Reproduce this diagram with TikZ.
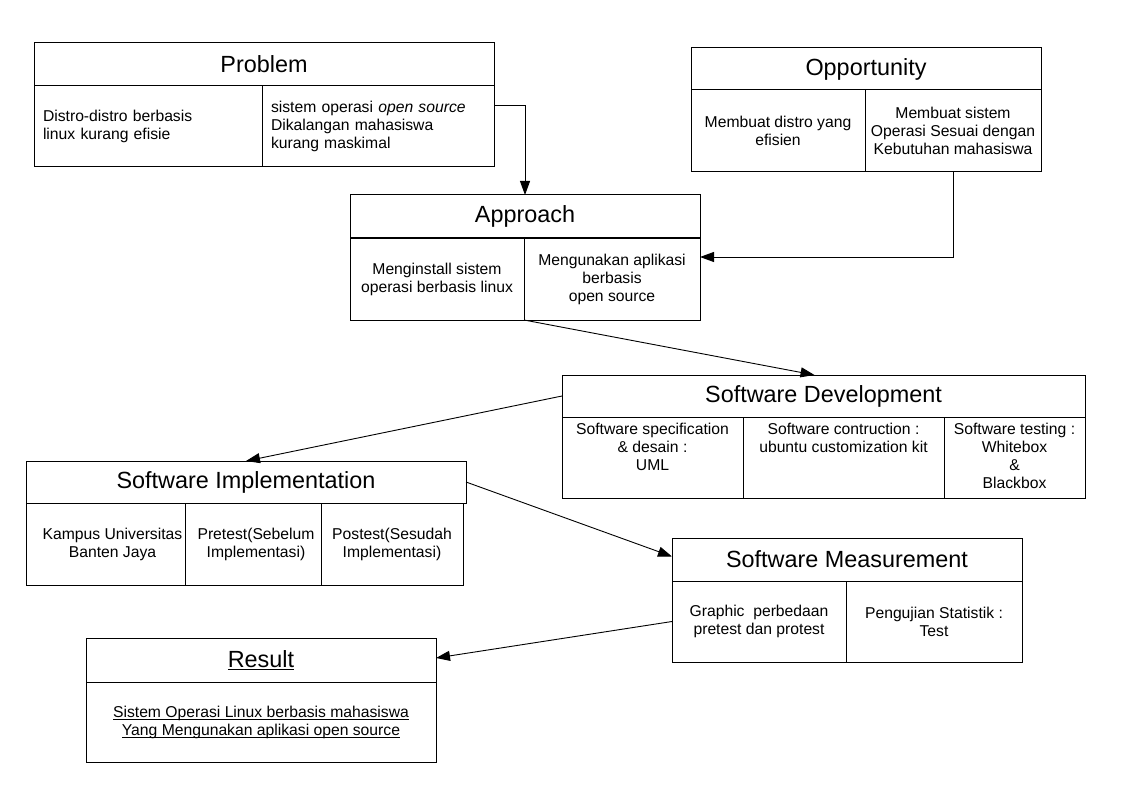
\documentclass[tikz,border=0pt]{standalone}
\usepackage{fontspec}
\setmainfont{Liberation Sans}
\usetikzlibrary{arrows.meta,calc}
\newcommand{\myul}[1]{\setbox0\hbox{#1}\rlap{\rule[-2.6pt]{\wd0}{0.9pt}}\box0}
\begin{document}
\begin{tikzpicture}[x=1pt,y=-1pt,
  box/.style={draw=black,line width=1pt,rectangle,outer sep=0pt,inner sep=0pt},
  titlebox/.style={box,font=\fontsize{23.4}{27}\selectfont},
  cellbox/.style={box,font=\fontsize{15.7}{18}\selectfont,align=center},
  leftcell/.style={box,font=\fontsize{15.7}{18}\selectfont,align=left,inner xsep=9pt},
  txt/.style={inner sep=0pt,outer sep=0pt,font=\fontsize{15.7}{18}\selectfont,align=center},
  arr/.style={line width=0.9pt,-{Triangle[length=14pt,width=10pt]}}]
\useasboundingbox (0,0) rectangle (1123,794);
\fill[white] (0,0) rectangle (1123,794);

% Problem
\node[titlebox,minimum width=460,minimum height=43] (pT) at (264,64.5) {Problem};
\node[leftcell,minimum height=81,text width=210] (pL) at (148,126.5) {Distro-distro berbasis\\linux kurang efisie};
\node[leftcell,minimum height=81,text width=214] (pR) at (378,126.5) {sistem operasi \textit{open source}\\Dikalangan mahasiswa\\kurang maskimal};

% Opportunity
\node[titlebox,minimum width=350,minimum height=42] (oT) at (866,69) {Opportunity};
\node[cellbox,minimum width=174,minimum height=82] (oL) at (778,131) {Membuat distro yang\\efisien};
\node[cellbox,minimum width=176,minimum height=82] (oR) at (953,131) {Membuat sistem\\Operasi Sesuai dengan\\Kebutuhan mahasiswa};

% Approach
\node[titlebox,minimum width=350,minimum height=43] (aT) at (525,216.5) {Approach};
\node[cellbox,minimum width=174,minimum height=82] (aL) at (437,279) {Menginstall sistem\\operasi berbasis linux};
\node[cellbox,minimum width=176,minimum height=82] (aR) at (612,279) {Mengunakan aplikasi\\berbasis\\open source};

% Software Development
\node[titlebox,minimum width=523,minimum height=42] (sdT) at (823.5,396) {Software Development};
\node[box,minimum width=181,minimum height=81] (sdA) at (652.5,457.5) {};
\node[box,minimum width=201,minimum height=81] (sdB) at (843.5,457.5) {};
\node[box,minimum width=141,minimum height=81] (sdC) at (1014.5,457.5) {};
\node[txt,anchor=north] (sdAt) at ([yshift=-6pt]sdA.north) {Software specification\\\& desain :\\UML};
\node[txt,anchor=north] (sdBt) at ([yshift=-6pt]sdB.north) {Software contruction :\\ubuntu customization kit};
\node[txt,anchor=north] (sdCt) at ([yshift=-6pt]sdC.north) {Software testing :\\Whitebox\\\&\\Blackbox};

% Software Implementation
\node[titlebox,minimum width=440,minimum height=42] (siT) at (246,482) {Software Implementation};
\node[box,minimum width=159,minimum height=82] (siA) at (105.5,544) {};
\node[txt] (siAt) at (112.5,544) {Kampus Universitas\\Banten Jaya};
\node[cellbox,minimum width=136,minimum height=82] (siB) at (253,544) {};
\node[txt] (siBt) at (256,544) {Pretest(Sebelum\\Implementasi)};
\node[cellbox,minimum width=142,minimum height=82] (siC) at (392,544) {Postest(Sesudah\\Implementasi)};

% Software Measurement
\node[titlebox,minimum width=350,minimum height=43] (smT) at (847,559.5) {Software Measurement};
\node[cellbox,minimum width=174,minimum height=81] (smA) at (759,621.5) {Graphic\ \ perbedaan\\pretest dan protest};
\node[cellbox,minimum width=176,minimum height=81] (smB) at (934,621.5) {Pengujian Statistik :\\Test};

% Result
\node[titlebox,minimum width=350,minimum height=44] (rT) at (261,660) {\myul{Result}};
\node[cellbox,minimum width=350,minimum height=80] (rB) at (261,722) {\myul{Sistem Operasi Linux berbasis mahasiswa}\\\myul{Yang Mengunakan aplikasi open source}};

% Connectors
\draw[arr] ([yshift=21.5pt]pR.east) -| (aT.north);
\draw[arr] (oR.south) |- ([yshift=22pt]aR.east);
\draw[arr] (aL.south east) -- ([xshift=-9pt]sdT.north);
\draw[arr] (sdT.west) -- (siT.north);
\draw[arr] (siT.east) -- ([yshift=3pt]smT.west);
\draw[arr] (smA.west) -- ([yshift=2pt]rT.east);
\end{tikzpicture}
\end{document}
